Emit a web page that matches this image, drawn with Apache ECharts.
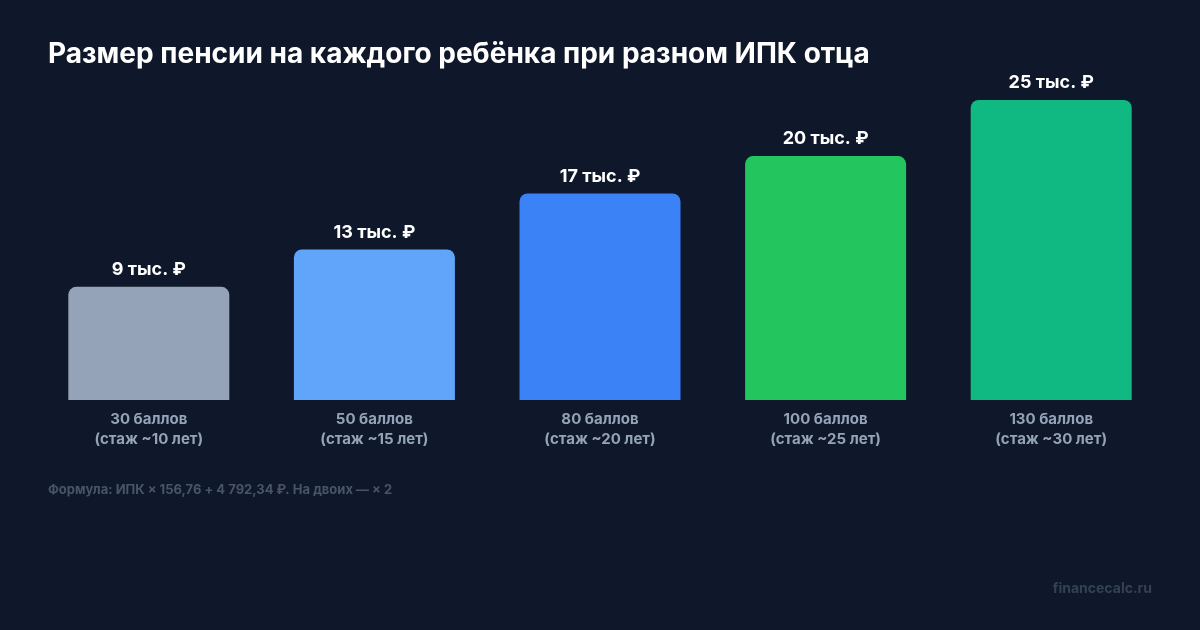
<!DOCTYPE html>
<html><head><meta charset="utf-8">
<script src="https://cdn.jsdelivr.net/npm/echarts@6/dist/echarts.min.js"></script>
<style>html,body{margin:0;padding:0;background:#0f172a;}#c{width:1200px;height:630px;}</style>
</head><body><div id="c"></div>
<script>
const categories = ['30 баллов\n(стаж ~10 лет)', '50 баллов\n(стаж ~15 лет)', '80 баллов\n(стаж ~20 лет)', '100 баллов\n(стаж ~25 лет)', '130 баллов\n(стаж ~30 лет)'];
const values = [9495, 12630, 17333, 20468, 25171];
const valueLabels = ['9 тыс. ₽', '13 тыс. ₽', '17 тыс. ₽', '20 тыс. ₽', '25 тыс. ₽'];
const colors = ['#94a3b8', '#60a5fa', '#3b82f6', '#22c55e', '#10b981'];
const title = 'Размер пенсии на каждого ребёнка при разном ИПК отца';
const footnote = 'Формула: ИПК × 156,76 + 4 792,34 ₽. На двоих — × 2';
const watermark = 'financecalc.ru';

const chart = echarts.init(document.getElementById('c'), null, {renderer: 'canvas'});
chart.setOption({
  backgroundColor: '#0f172a',
  animation: false,
  textStyle: {fontFamily: 'Inter'},
  title: {text: title, left: 48, top: 41, padding: 0, textStyle: {color: '#ffffff', fontSize: 28, fontWeight: 'bold', fontFamily: 'Inter'}},
  graphic: [
    {type: 'text', left: 48, top: 484, style: {text: footnote, fill: '#475569', font: 'bold 13px Inter'}},
    {type: 'text', right: 48, top: 582, style: {text: watermark, fill: '#334155', font: 'bold 14px Inter'}}
  ],
  grid: {left: 36, right: 36, top: 100, bottom: 230},
  xAxis: {
    type: 'category', data: categories,
    axisLine: {show: false}, axisTick: {show: false},
    axisLabel: {color: '#94a3b8', fontSize: 15, fontWeight: 'bold', lineHeight: 20, margin: 9, fontFamily: 'Inter'}
  },
  yAxis: {type: 'value', min: 0, max: 25171, show: false, splitLine: {show: false}},
  series: [{
    type: 'bar', barWidth: 161,
    data: values.map((v, i) => ({value: v, itemStyle: {color: colors[i]}})),
    itemStyle: {borderRadius: [8, 8, 0, 0]},
    label: {show: true, position: 'top', distance: 8, color: '#ffffff', fontSize: 18, fontWeight: 'bold', fontFamily: 'Inter',
      formatter: p => valueLabels[p.dataIndex]}
  }]
});
</script></body></html>
